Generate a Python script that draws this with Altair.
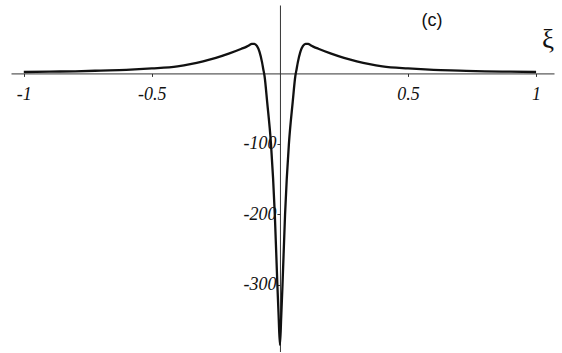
import altair as alt
import pandas as pd

# Sampled profile f(xi): sharp negative well at the origin, small shoulders on each side
xi = [-1.0, -0.9, -0.8, -0.7, -0.6, -0.5, -0.4, -0.35, -0.3, -0.25, -0.2, -0.15,
      -0.13, -0.12, -0.11, -0.1, -0.09, -0.08, -0.07, -0.065, -0.06, -0.05, -0.035,
      -0.02, -0.01, -0.005, 0.0,
      0.005, 0.01, 0.02, 0.035, 0.05, 0.06, 0.065, 0.07, 0.08, 0.09, 0.1, 0.11,
      0.12, 0.13, 0.15, 0.2, 0.25, 0.3, 0.35, 0.4, 0.5, 0.6, 0.7, 0.8, 0.9, 1.0]
f = [2.0, 2.5, 3.0, 4.0, 5.0, 7.0, 10.0, 13.0, 17.0, 22.0, 28.0, 35.0,
     38.0, 40.0, 42.0, 42.0, 39.0, 31.0, 16.0, 6.0, -4.0, -40.0, -100.0,
     -200.0, -300.0, -345.0, -385.0,
     -345.0, -300.0, -200.0, -100.0, -40.0, -4.0, 6.0, 16.0, 31.0, 39.0, 42.0, 42.0,
     40.0, 38.0, 35.0, 28.0, 22.0, 17.0, 13.0, 10.0, 7.0, 5.0, 4.0, 3.0, 2.5, 2.0]

x_ticks = [-1, -0.5, 0.5, 1]
y_ticks = [-300, -200, -100]

# Annotations placed in data coordinates
notes_text = ["(c)", "ξ"]
notes_x = [0.594, 1.047]
notes_y = [74.0, 47.0]

X_MIN, X_MAX = -1.05, 1.07
Y_MIN, Y_MAX = -395.0, 97.0
W, H = 543, 347

curve = pd.DataFrame({"xi": xi, "f": f})
notes = pd.DataFrame({"t": notes_text, "x": notes_x, "y": notes_y})

x_scale = alt.Scale(domain=[X_MIN, X_MAX], nice=False, zero=False)
y_scale = alt.Scale(domain=[Y_MIN, Y_MAX], nice=False, zero=False)

# Offsets that pull both axes in so they cross at the origin
x_axis_offset = -H * (0 - Y_MIN) / (Y_MAX - Y_MIN)
y_axis_offset = -W * (0 - X_MIN) / (X_MAX - X_MIN)

label_font = "Liberation Serif"

x_axis = alt.Axis(values=x_ticks, labelExpr="'' + datum.value", title=None,
                  grid=False, offset=x_axis_offset, domainColor="#333",
                  domainWidth=1, tickColor="#333", tickSize=3,
                  labelFont=label_font, labelFontStyle="italic",
                  labelFontSize=18, labelColor="#111", labelPadding=9)
y_axis = alt.Axis(values=y_ticks, labelExpr="'' + datum.value", title=None,
                  grid=False, offset=y_axis_offset, domainColor="#333",
                  domainWidth=1, tickColor="#333", tickSize=3,
                  labelFont=label_font, labelFontStyle="italic",
                  labelFontSize=18, labelColor="#111", labelPadding=1)

line = alt.Chart(curve).mark_line(color="#111", strokeWidth=2.3,
                                  interpolate="monotone").encode(
    x=alt.X("xi:Q", scale=x_scale, axis=x_axis),
    y=alt.Y("f:Q", scale=y_scale, axis=y_axis),
)

labels_c = alt.Chart(notes.iloc[[0]]).mark_text(
    font="Liberation Sans", fontSize=18, color="#111", align="center",
    baseline="middle").encode(
    x=alt.X("x:Q", scale=x_scale), y=alt.Y("y:Q", scale=y_scale), text="t:N")

labels_xi = alt.Chart(notes.iloc[[1]]).mark_text(
    font="Liberation Serif", fontSize=27, color="#111", align="center",
    baseline="middle").encode(
    x=alt.X("x:Q", scale=x_scale), y=alt.Y("y:Q", scale=y_scale), text="t:N")

chart = alt.layer(line, labels_c, labels_xi).properties(
    width=W, height=H,
    padding={"left": 11, "top": 5, "right": 0, "bottom": 0},
    background="white",
).configure_view(stroke=None)

chart.save("out.html", embed_options={"renderer": "svg", "actions": False})
